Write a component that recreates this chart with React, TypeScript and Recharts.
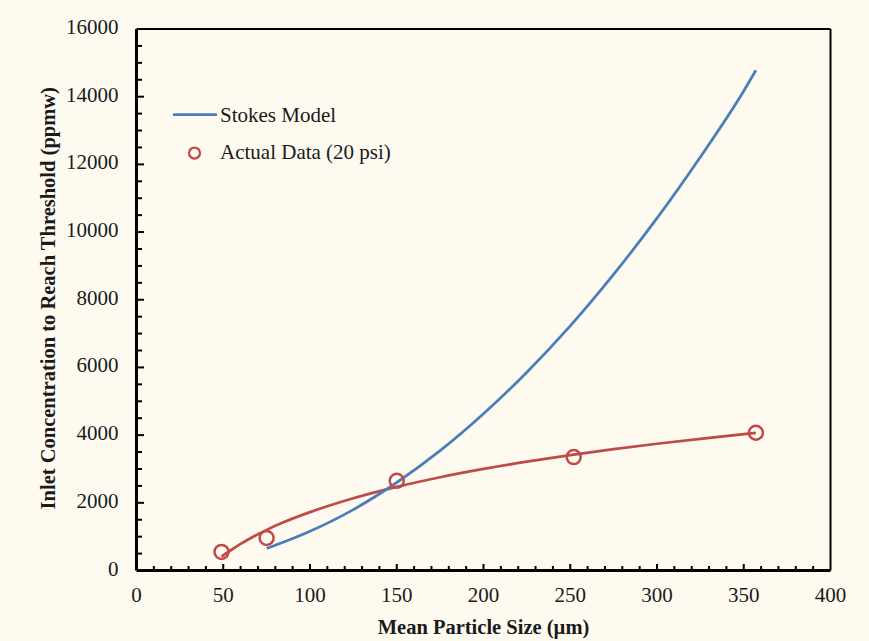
import React from "react";
import {
  ComposedChart,
  Line,
  Scatter,
  XAxis,
  YAxis,
  ReferenceLine,
  Legend,
} from "recharts";

// ---- data ----
const stokesX = [75, 100, 125, 150, 175, 200, 225, 250, 275, 300, 325, 350, 357];
const stokesY = [650, 1160, 1800, 2600, 3540, 4630, 5860, 7230, 8750, 10410, 12220, 14170, 14780];

const actualX = [49, 75, 150, 252, 357];
const actualY = [550, 960, 2650, 3350, 4070];

const trendX = [49, 55, 60, 67, 75, 85, 100, 125, 150, 175, 200, 225, 250, 275, 300, 325, 357];
const trendY = [413, 620, 785, 990, 1200, 1430, 1725, 2135, 2470, 2755, 3000, 3215, 3410, 3585, 3745, 3890, 4065];

const xMajorTicks = [0, 50, 100, 150, 200, 250, 300, 350, 400];
const yMajorTicks = [0, 2000, 4000, 6000, 8000, 10000, 12000, 14000, 16000];
const xMinorStep = 10;
const yMinorStep = 500;

const stokesName = "Stokes Model";
const actualName = "Actual Data (20 psi)";
const legendOrder = [stokesName, actualName];
const xTitle = "Mean Particle Size (\u00b5m)";
const yTitle = "Inlet Concentration to Reach Threshold (ppmw)";

const BLUE = "#4A7EBB";
const RED = "#BE4B48";
const BG = "#FEFAF0";
const FONT = "'Liberation Serif', 'Times New Roman', serif";

const stokesData = stokesX.map((x, i) => ({ x, y: stokesY[i] }));
const actualData = actualX.map((x, i) => ({ x, y: actualY[i] }));
const trendData = trendX.map((x, i) => ({ x, y: trendY[i] }));

const xTicks: number[] = [];
for (let v = 0; v <= 400; v += xMinorStep) xTicks.push(v);
const yTicks: number[] = [];
for (let v = 0; v <= 16000; v += yMinorStep) yTicks.push(v);

const XTick = (props: any) => {
  const { x, y, payload } = props;
  const v = payload.value;
  const major = xMajorTicks.includes(v);
  return (
    <g>
      {v !== 0 && v !== 400 && (
        <line x1={x} x2={x} y1={y} y2={y - (major ? 6.5 : 4.5)} stroke="#000" strokeWidth={2} />
      )}
      {major && (
        <text x={x} y={y + 31} textAnchor="middle" fontFamily={FONT} fontSize={21} fill="#1a1a1a">
          {v}
        </text>
      )}
    </g>
  );
};

const YTick = (props: any) => {
  const { x, y, payload } = props;
  const v = payload.value;
  const major = yMajorTicks.includes(v);
  return (
    <g>
      {v !== 0 && v !== 16000 && (
        <line x1={x} x2={x + (major ? 7.5 : 5.5)} y1={y} y2={y} stroke="#000" strokeWidth={2} />
      )}
      {major && (
        <text x={x - 18} y={y + 5} textAnchor="end" fontFamily={FONT} fontSize={21} fill="#1a1a1a">
          {v}
        </text>
      )}
    </g>
  );
};

const renderLegend = (props: any) => {
  const payload = (props.payload || [])
    .filter((p: any) => p.type !== "none")
    .slice()
    .sort((a: any, b: any) => legendOrder.indexOf(a.value) - legendOrder.indexOf(b.value));
  return (
    <svg width={260} height={72} style={{ display: "block" }}>
      {payload.map((p: any, i: number) => {
        const cy = 16.5 + i * 37;
        return (
          <g key={i}>
            {p.type === "line" ? (
              <line x1={8} x2={52} y1={cy} y2={cy} stroke={p.color} strokeWidth={2.75} />
            ) : (
              <circle cx={29.5} cy={cy + 1.5} r={5.5} fill="none" stroke={p.color} strokeWidth={2.25} />
            )}
            <text x={55} y={cy + 7.5} fontFamily={FONT} fontSize={21} fill="#1a1a1a">
              {p.value}
            </text>
          </g>
        );
      })}
    </svg>
  );
};

const Ring = (props: any) => {
  const { cx, cy } = props;
  return <circle cx={cx} cy={cy} r={7} fill="none" stroke={RED} strokeWidth={2.5} />;
};

export default function App() {
  return (
    <div style={{ position: "absolute", left: 0, top: 0, width: 869, height: 641, background: BG }}>
      <ComposedChart
        width={869}
        height={641}
        margin={{ top: 29, right: 38.5, bottom: 0, left: 0 }}
      >
        <XAxis
          type="number"
          dataKey="x"
          domain={[0, 400]}
          ticks={xTicks}
          interval={0}
          height={70.5}
          tickSize={0}
          tickMargin={0}
          tickLine={false}
          axisLine={{ stroke: "#000", strokeWidth: 3 }}
          tick={<XTick />}
          allowDataOverflow
          label={(lp: any) => {
            const vb = lp.viewBox || {};
            return (
              <text
                x={vb.x + vb.width / 2}
                y={vb.y + 63}
                textAnchor="middle"
                fontFamily={FONT}
                fontWeight="bold"
                fontSize={20.5}
                fill="#1a1a1a"
              >
                {xTitle}
              </text>
            );
          }}
        />
        <YAxis
          type="number"
          dataKey="y"
          domain={[0, 16000]}
          ticks={yTicks}
          interval={0}
          width={136.5}
          tickSize={0}
          tickMargin={0}
          tickLine={false}
          axisLine={{ stroke: "#000", strokeWidth: 3 }}
          tick={<YTick />}
          allowDataOverflow
          label={(lp: any) => {
            const vb = lp.viewBox || {};
            const cx = vb.x + 55;
            const cy = vb.y + vb.height / 2 - 1.5;
            return (
              <text
                x={cx}
                y={cy}
                transform={`rotate(-90 ${cx} ${cy})`}
                textAnchor="middle"
                fontFamily={FONT}
                fontWeight="bold"
                fontSize={20.5}
                fill="#1a1a1a"
              >
                {yTitle}
              </text>
            );
          }}
        />
        <ReferenceLine y={16000} stroke="#000" strokeWidth={2} />
        <ReferenceLine x={400} stroke="#000" strokeWidth={2} />
        <Line
          data={trendData}
          dataKey="y"
          type="monotone"
          stroke={RED}
          strokeWidth={2.75}
          dot={false}
          activeDot={false}
          legendType="none"
          isAnimationActive={false}
        />
        <Line
          data={stokesData}
          dataKey="y"
          name={stokesName}
          type="monotone"
          stroke={BLUE}
          strokeWidth={2.75}
          dot={false}
          activeDot={false}
          legendType="line"
          isAnimationActive={false}
        />
        <Scatter
          data={actualData}
          dataKey="y"
          name={actualName}
          fill={RED}
          stroke={RED}
          shape={<Ring />}
          legendType="circle"
          isAnimationActive={false}
        />
        <Legend
          layout="vertical"
          align="center"
          verticalAlign="middle"
          wrapperStyle={{ left: 165, top: 98, width: 260, height: 72 }}
          content={renderLegend}
        />
      </ComposedChart>
    </div>
  );
}
